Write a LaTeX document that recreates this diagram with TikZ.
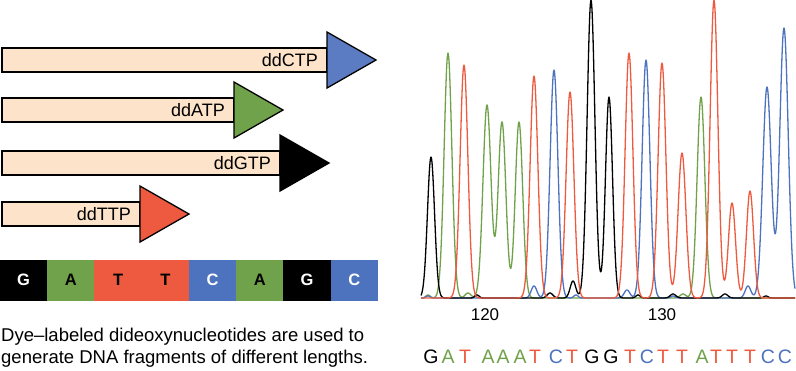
\documentclass[tikz,border=0pt]{standalone}
\usepackage{fontspec}
\setmainfont{Liberation Sans}
\definecolor{peach}{HTML}{FDE3C9}
\definecolor{dgreen}{HTML}{70A14B}
\definecolor{dred}{HTML}{EE5A40}
\definecolor{dblue}{HTML}{4D72BE}
\definecolor{ablue}{HTML}{5B7BC3}

\begin{document}
\begin{tikzpicture}
  [x=1pt,y=-1pt,
   bar/.style={fill=peach,draw=black,line width=1.5pt},
   head/.style={draw=black,line width=1.3pt,line join=miter},
   tag/.style={anchor=east,inner sep=0pt,font=\fontsize{18}{21}\selectfont},
   cell/.style={minimum width=47.6pt,minimum height=40.5pt,inner sep=0pt,
     font=\fontsize{16.5}{18}\selectfont\bfseries},
   trace/.style={line width=1.3pt,line join=round},
   base/.style={anchor=base,inner sep=0pt,font=\fontsize{19.5}{22}\selectfont},
   declare function={pk(\t,\c,\h,\s)=\h*exp(-min(abs(\t-\c)/\s,9)*min(abs(\t-\c)/\s,9));}]

  \useasboundingbox (0,0) rectangle (796,370);

  \foreach \e/\m/\col/\lab [count=\i] in {327/60/ablue/ddCTP,234/110/dgreen/ddATP,280/163/black/ddGTP,140/214/dred/ddTTP}{
    \draw[bar] (2,\m-12) rectangle (\e,\m+12);
    \draw[head,fill=\col] (\e,\m-28) -- (\e+49,\m) -- (\e,\m+28) -- cycle;
    \node[tag] (l\i) at (\e-9,\m) {\lab};
  }

  \foreach \b/\f/\tc [count=\i] in {G/black/white,A/dgreen/black,T/dred/black,T/dred/black,C/dblue/white,A/dgreen/black,G/black/white,C/dblue/white}
    \node[cell,fill=\f,text=\tc] (c\i) at ({23.6+47.25*(\i-1)},280.3) {\b};

  \node[anchor=base west,align=left,inner sep=0pt,font=\fontsize{18.5}{22}\selectfont] (cap) at (1,363.5)
    {Dye--labeled dideoxynucleotides are used to\\generate DNA fragments of different lengths.};

  \draw[trace,dgreen] plot[domain=421:795,samples=749] (\x,{298-pk(\x,428,3,3)-pk(\x,448,245,5.5)-pk(\x,468,5,4)-pk(\x,487,193,5.7)-pk(\x,502,176,5.5)-pk(\x,519,176,5.3)-pk(\x,683,4,4)-pk(\x,701,201,5.5)});
  \draw[trace,dblue] plot[domain=421:795,samples=749] (\x,{298-pk(\x,428,2,3)-pk(\x,534,12,4)-pk(\x,554,228,5.5)-pk(\x,576,3,3)-pk(\x,627,8,4)-pk(\x,646,238,5.5)-pk(\x,673,2,3)-pk(\x,748,12,4)-pk(\x,767,211,6)-pk(\x,784,270,6)});
  \draw[trace,black] plot[domain=421:795,samples=749] (\x,{298-pk(\x,431,141,5)-pk(\x,477,3,3)-pk(\x,550,5,4)-pk(\x,573,17,4)-pk(\x,591,298,5.5)-pk(\x,609,201,5)-pk(\x,638,3,3)-pk(\x,673,4,4)-pk(\x,725,4,4)-pk(\x,766,2,3)});
  \draw[trace,dred] plot[domain=421:795,samples=749] (\x,{298-pk(\x,464,233,5.5)-pk(\x,534,222,5.5)-pk(\x,570,206,5.5)-pk(\x,629,245,5.5)-pk(\x,662,235,5.5)-pk(\x,682,145,5.5)-pk(\x,714,298,5.5)-pk(\x,732,95,5)-pk(\x,750,107,5)});

  \node[base,font=\fontsize{17}{20}\selectfont] (k120) at (485,320.5) {120};
  \node[base,font=\fontsize{17}{20}\selectfont] (k130) at (662,320.5) {130};

  \foreach \x/\b/\col [count=\i] in {431/G/black,448/A/dgreen,465/T/dred,488/A/dgreen,503/A/dgreen,520/A/dgreen,535/T/dred,556/C/dblue,572/T/dred,592/G/black,611/G/black,630/T/dred,647/C/dblue,663/T/dred,682/T/dred,702/A/dgreen,716/T/dred,732/T/dred,750/T/dred,768/C/dblue,785/C/dblue}
    \node[base,text=\col] (s\i) at (\x,363) {\b};
\end{tikzpicture}
\end{document}
